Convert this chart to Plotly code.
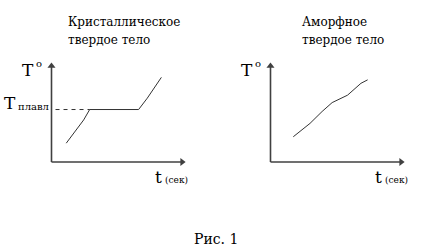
import plotly.graph_objects as go

# data (time units, temperature units)
t_cryst = [1.1, 2.0, 2.4, 2.85, 6.5, 7.15, 7.65, 8.2]
T_cryst = [1.9, 3.6, 4.25, 5.3, 5.3, 6.45, 7.45, 8.55]
T_melt = 5.3
t_amorph = [1.7, 2.95, 3.85, 4.6, 5.75, 6.75, 7.25]
T_amorph = [2.55, 3.9, 5.1, 6.0, 6.75, 7.95, 8.3]

title_lines = [["Кристаллическое", "твердое тело"], ["Аморфное", "твердое тело"]]
caption = "Рис. 1"

W, H = 440, 251
FONT = "DejaVu Serif"
CURVE = "#333333"
AX = "#404040"

fig = go.Figure()

fig.add_trace(go.Scatter(x=t_cryst, y=T_cryst, mode="lines",
                         line=dict(color=CURVE, width=1), xaxis="x", yaxis="y",
                         showlegend=False, hoverinfo="skip"))
fig.add_trace(go.Scatter(x=[0.3, t_cryst[3]], y=[T_melt, T_melt], mode="lines",
                         line=dict(color=CURVE, width=1, dash="4px,4px"),
                         xaxis="x", yaxis="y", showlegend=False, hoverinfo="skip"))
fig.add_trace(go.Scatter(x=t_amorph, y=T_amorph, mode="lines",
                         line=dict(color=CURVE, width=1), xaxis="x2", yaxis="y2",
                         showlegend=False, hoverinfo="skip"))

for xr, yr in (("x", "y"), ("x2", "y2")):
    fig.add_trace(go.Scatter(x=[0.0, 9.7, None, 0.0, 0.0], y=[0.0, 0.0, None, 0.0, 9.6],
                             mode="lines", line=dict(color=AX, width=1.6),
                             xaxis=xr, yaxis=yr, showlegend=False, hoverinfo="skip"))
    fig.add_trace(go.Scatter(x=[9.75, 0.0], y=[0.0, 9.7], mode="markers",
                             marker=dict(symbol=["triangle-right", "triangle-up"],
                                         size=7, color=AX),
                             xaxis=xr, yaxis=yr, showlegend=False, hoverinfo="skip",
                             cliponaxis=False))

def px_x(p):
    return p / W

def px_y(p):
    return 1 - p / H

SX = 13.4  # px per time unit
SY = 9.9   # px per temperature unit
PAD = 0.5
ax_x = dict(range=[-PAD, 10], visible=False, fixedrange=True)
ax_y = dict(range=[-PAD, 10], visible=False, fixedrange=True)
fig.update_layout(
    width=W, height=H,
    margin=dict(l=0, r=0, t=0, b=0),
    paper_bgcolor="white", plot_bgcolor="white",
    xaxis=dict(domain=[px_x(51.5 - PAD * SX), px_x(51.5 + 10 * SX)], anchor="y", **ax_x),
    yaxis=dict(domain=[px_y(162 + PAD * SY), px_y(162 - 10 * SY)], anchor="x", **ax_y),
    xaxis2=dict(domain=[px_x(270.5 - PAD * SX), px_x(270.5 + 10 * SX)], anchor="y2", **ax_x),
    yaxis2=dict(domain=[px_y(162 + PAD * SY), px_y(162 - 10 * SY)], anchor="x2", **ax_y),
)

anns = []

def txt(text, x, y, size, xanchor="left", yanchor="middle"):
    anns.append(dict(text=text, x=px_x(x), y=px_y(y), xref="paper", yref="paper",
                     showarrow=False, xanchor=xanchor, yanchor=yanchor,
                     font=dict(family=FONT, size=size, color="black")))

# panel titles
txt(title_lines[0][0], 66, 22, 12)
txt(title_lines[0][1], 66, 40, 12)
txt(title_lines[1][0], 300, 22, 12)
txt(title_lines[1][1], 300, 40, 12)

# T° labels
for dx in (0, 219):
    txt("T", 20 + dx, 69.5, 17)
    txt("o", 33.5 + dx, 63.5, 10)
# melting temperature label
txt("T", 2, 103, 17)
txt("плавл", 15.5, 106.5, 10)
# time labels
for dx in (0, 220):
    txt("t", 153 + dx, 177, 17)
    txt("(сек)", 163 + dx, 180, 9)

txt(caption, 216, 239, 14, xanchor="center")

fig.update_layout(annotations=anns)
fig.write_html("out.html")
